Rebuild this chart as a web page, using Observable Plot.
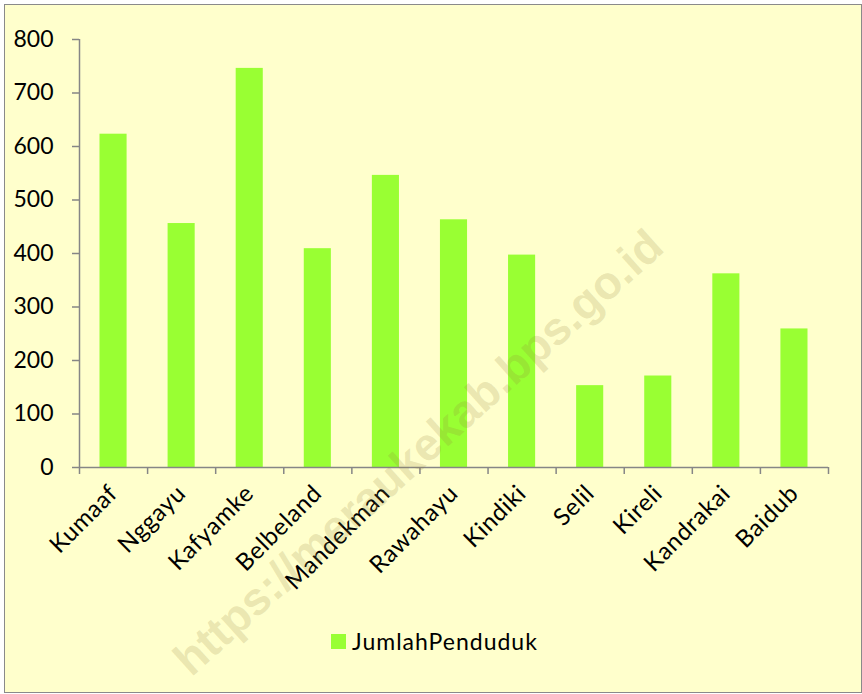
<!DOCTYPE html>
<html><head><meta charset="utf-8">
<script src="https://cdn.jsdelivr.net/npm/d3@7"></script>
<script src="https://cdn.jsdelivr.net/npm/@observablehq/plot@0.6"></script>
<style>
html,body{margin:0;padding:0;background:#fff;width:862px;height:694px;overflow:hidden;}
#frame{position:absolute;left:4px;top:4px;width:856px;height:687px;border:1.5px solid #8a8a8a;background:#FFFFCC;}
#chart{position:absolute;left:0;top:0;}
#legend{position:absolute;left:331px;top:629px;height:24px;display:flex;align-items:center;font-family:Lato,sans-serif;font-size:23px;letter-spacing:1px;color:#000;}
#legend .sw{width:15px;height:15px;background:#99FF33;margin-right:6px;}
#wm{position:absolute;left:418px;top:452px;transform:translate(-50%,-50%) rotate(-42deg);font-family:"Liberation Sans",Arial,sans-serif;font-weight:bold;font-size:46px;line-height:1;color:rgba(150,130,60,0.2);white-space:nowrap;pointer-events:none;}
.xl text{letter-spacing:0.6px;}
</style></head>
<body>
<div id="frame"></div>
<div id="chart"></div>
<div id="legend"><div class="sw"></div><span>JumlahPenduduk</span></div>
<div id="wm">https://meraukekab.bps.go.id</div>
<script>
const categories = ["Kumaaf","Nggayu","Kafyamke","Belbeland","Mandekman","Rawahayu","Kindiki","Selil","Kireli","Kandrakai","Baidub"];
const values = [623, 456, 746, 409, 546, 463, 397, 153, 171, 362, 259];
const yTicks = [0,100,200,300,400,500,600,700,800];
const seriesName = "JumlahPenduduk";

const data = categories.map((c,i)=>({i, name:c, value:values[i]}));
const grey = "#868686";

const chart = Plot.plot({
  width: 862,
  height: 600,
  marginLeft: 79,
  marginRight: 34,
  marginTop: 39,
  marginBottom: 133,
  style: {background:"transparent", fontFamily:"Lato, sans-serif", fontSize:"23px", color:"#000", overflow:"visible"},
  x: {domain:[0, categories.length]},
  y: {domain:[0, 800]},
  marks: [
    Plot.rectY(data, {x1: d=>d.i, x2: d=>d.i+1, y: "value", fill:"#99FF33", insetLeft:20.5, insetRight:20.5}),
    Plot.ruleY([0], {stroke:grey, strokeWidth:1.5}),
    Plot.ruleX([0], {y1:0, y2:800, stroke:grey, strokeWidth:1.5}),
    Plot.axisY({ticks: yTicks, tickSize:7, tickPadding:19, stroke:grey, strokeWidth:1.5, label:null, tickFormat:d=>String(d)}),
    Plot.axisX({ticks: d3.range(categories.length+1), tickSize:7, stroke:grey, strokeWidth:1.5, tickFormat:()=>"", label:null}),
    Plot.axisX({ticks: categories.map((c,i)=>i+0.5), tickSize:0, tickPadding:22, tickRotate:-45, fontSize:24, className:"xl", tickFormat:d=>categories[Math.floor(d)], label:null})
  ]
});
document.getElementById("chart").appendChild(chart);
document.querySelector("#legend span").textContent = seriesName;
</script>
</body></html>
